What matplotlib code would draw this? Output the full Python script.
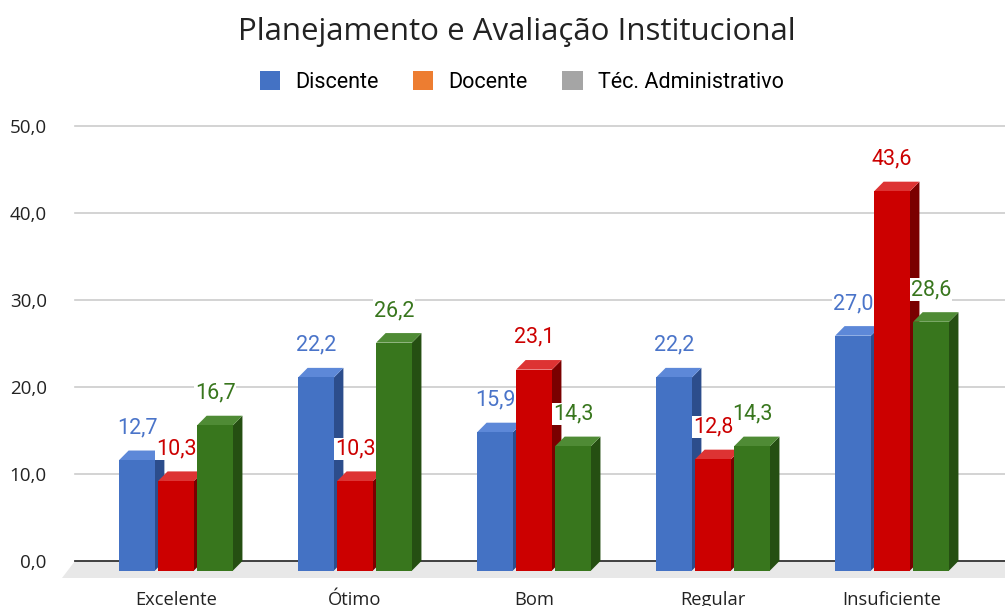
import matplotlib.pyplot as plt
from matplotlib.patches import Polygon, Patch
import numpy as np

categorias = ['Excelente', 'Ótimo', 'Bom', 'Regular', 'Insuficiente']
series = ['Discente', 'Docente', 'Téc. Administrativo']
discente = [12.7, 22.2, 15.9, 22.2, 27.0]
docente = [10.3, 10.3, 23.1, 12.8, 43.6]
tecnico = [16.7, 26.2, 14.3, 14.3, 28.6]
yticks = [0, 10, 20, 30, 40, 50]

# face colours: front, top, side, label
cores = [
    ('#4472c4', '#5d88d8', '#2c4d8c', '#4a74c9'),
    ('#cc0000', '#dd3333', '#7a0000', '#cc0000'),
    ('#38761d', '#4f8b35', '#254f12', '#38761d'),
]
legenda = ['#4472c4', '#ed7d31', '#a5a5a5']

fig = plt.figure(figsize=(10.05, 6.06), dpi=100)
ax = fig.add_axes([62/1005, 0.0455, 1 - 62/1005, 0.7753])
ax.set_xlim(-0.637, 4.631)
ax.set_ylim(-2, 52)

# chao + grade
x_back = -0.564
ax.add_patch(Polygon([(-0.637, -1.9), (4.631, -1.9), (4.631, 0), (x_back, 0)],
                     closed=True, facecolor='#e8e8e8', edgecolor='none', zorder=0))
for t in yticks[1:]:
    ax.plot([x_back, 4.631], [t, t], color='#cccccc', lw=1.2, zorder=0.5)
ax.plot([x_back, 4.631], [0, 0], color='#333333', lw=1.3, zorder=0.6)

w = 0.2
dx = 0.053
d = 1.1
offs = [-0.218, 0, 0.218]
dados = [discente, docente, tecnico]
z = 1
for j in range(len(categorias)):
    for i, vals in enumerate(dados):
        v = vals[j]
        x0 = j + offs[i] - w/2
        fr, tp, sd, lc = cores[i]
        ax.add_patch(Polygon([(x0 + w, -d), (x0 + w + dx, 0), (x0 + w + dx, v), (x0 + w, v - d)],
                             closed=True, facecolor=sd, edgecolor='none', zorder=z))
        ax.add_patch(Polygon([(x0, v - d), (x0 + w, v - d), (x0 + w + dx, v), (x0 + dx, v)],
                             closed=True, facecolor=tp, edgecolor='none', zorder=z))
        ax.add_patch(Polygon([(x0, -d), (x0 + w, -d), (x0 + w, v - d), (x0, v - d)],
                             closed=True, facecolor=fr, edgecolor='none', zorder=z + 0.1))
        z += 1
for j in range(len(categorias)):
    for i, vals in enumerate(dados):
        v = vals[j]
        ax.text(j + offs[i], v + 2.6, f'{v:.1f}'.replace('.', ','), ha='center', va='center',
                fontsize=15.5, color=cores[i][3], family='Roboto', zorder=50,
                bbox=dict(boxstyle='square,pad=0.03', fc='white', ec='none'))

ax.set_xticks(range(len(categorias)))
ax.set_xticklabels(categorias, family='Open Sans', fontsize=13.2, color='#222222')
ax.set_yticks(yticks)
ax.set_yticklabels([f'{t:.1f}'.replace('.', ',') for t in yticks], family='Open Sans',
                   fontsize=13.5, color='#222222')
ax.tick_params(length=0)
ax.tick_params(axis='x', pad=9)
ax.tick_params(axis='y', pad=11)
for s in ax.spines.values():
    s.set_visible(False)

fig.text(0.514, 1 - 32/606, 'Planejamento e Avaliação Institucional', ha='center', va='center',
         fontsize=22.5, family='Open Sans', color='#222222')

handles = [Patch(facecolor=c, edgecolor='none') for c in legenda]
fig.legend(handles, series, loc='center', bbox_to_anchor=(0.519, 1 - 82/606), ncol=3,
           frameon=False, prop={'family': 'Roboto', 'size': 15.5},
           handlelength=0.95, handleheight=0.95, columnspacing=1.6, handletextpad=0.7)

fig.savefig('out.png', dpi=100)
